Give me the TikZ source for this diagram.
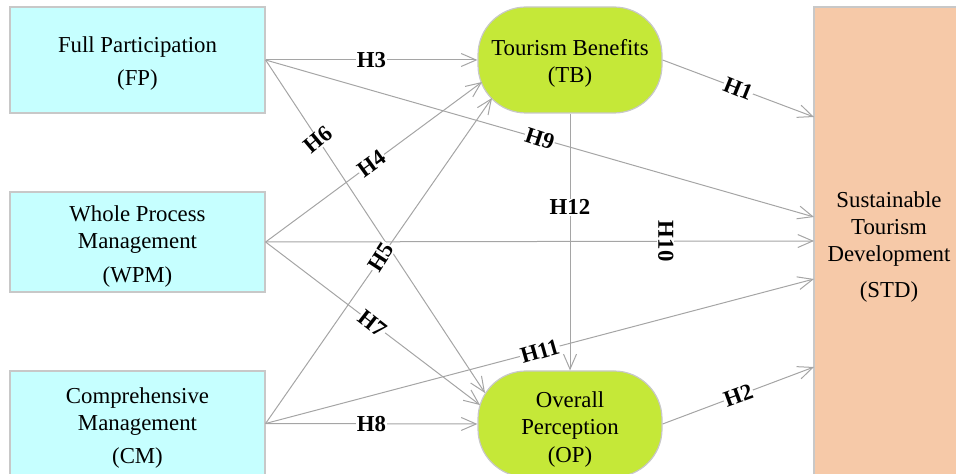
\documentclass[tikz,border=0pt]{standalone}
\usepackage{fontspec}
\setmainfont{Liberation Serif}
\usetikzlibrary{arrows.meta,calc}
\definecolor{boxcyan}{RGB}{198,255,255}
\definecolor{pillgreen}{RGB}{197,232,56}
\definecolor{stdorange}{RGB}{246,201,168}
\definecolor{edgegray}{RGB}{200,200,200}
\definecolor{linegray}{RGB}{165,165,165}
\begin{document}
\begin{tikzpicture}[x=0.5pt,y=-0.5pt,
  every node/.style={font=\fontsize{11.4}{13.5}\selectfont},
  srcbox/.style={draw=edgegray, line width=0.6pt, fill=boxcyan, minimum width=127.5pt, inner sep=0pt},
  pill/.style={draw=edgegray, line width=0.6pt, fill=pillgreen, minimum width=92pt, minimum height=53pt, rounded corners=24pt, inner sep=0pt},
  tgtbox/.style={draw=edgegray, line width=0.6pt, fill=stdorange, minimum width=75pt, minimum height=237pt, inner sep=0pt},
  txt/.style={align=center, inner sep=0pt},
  conn/.style={draw=linegray, line width=0.5pt, -{Straight Barb[length=7.5pt,width=6.5pt]}},
  lbl/.style={font=\fontsize{11.4}{13.5}\selectfont\bfseries, fill=white, inner sep=0.4pt}]
\useasboundingbox (0,0) rectangle (956,474);
\clip (0,0) rectangle (956,474);

% shapes
\node[srcbox, minimum height=53pt] (FP) at (137.5,60) {};
\node[srcbox, minimum height=50pt] (WPM) at (137.5,242) {};
\node[srcbox, minimum height=52.5pt] (CM) at (137.5,423.5) {};
\node[pill] (TB) at (570,60) {};
\node[pill] (OP) at (570,424) {};
\node[tgtbox] (STD) at (889,244) {};

% texts
\node[txt] (FPtext) at ($(FP)+(0,4)$) {Full Participation\\[3pt](FP)};
\node[txt] (WPMtext) at ($(WPM)+(0,5)$) {Whole Process\\Management\\[3.5pt](WPM)};
\node[txt] (CMtext) at ($(CM)+(0,5)$) {Comprehensive\\Management\\[3pt](CM)};
\node[txt] (TBtext) at ($(TB)+(0,3)$) {Tourism Benefits\\(TB)};
\node[txt] (OPtext) at ($(OP)+(0,6)$) {Overall\\Perception\\[0.5pt](OP)};
\node[txt] (STDtext) at ($(STD)+(0,3)$) {Sustainable\\Tourism\\Development\\[4.5pt](STD)};

% arrow end points on node borders
\coordinate (tb4) at (482,82);
\coordinate (tb5) at (492,98);
\coordinate (op6) at (485,393);
\coordinate (op7) at (480,405);
\coordinate (s1) at (814,117);
\coordinate (s9) at (814,217);
\coordinate (s10) at (814,241);
\coordinate (s11) at (814,279);
\coordinate (s2) at (814,367);

% connectors
\draw[conn] (FP.east) -- node[lbl, pos=0.5] {H3} (TB.west);
\draw[conn] (FP.east) -- node[lbl, pos=0.5, rotate=-18] {H9} (s9);
\draw[conn] (FP.east) -- node[lbl, pos=0.24, rotate=40] {H6} (op6);
\draw[conn] (WPM.east) -- node[lbl, pos=0.49, rotate=36] {H4} (tb4);
\draw[conn] (WPM.east) -- node[lbl, pos=0.73, rotate=-90] {H10} (s10);
\draw[conn] (WPM.east) -- node[lbl, pos=0.5, rotate=-38] {H7} (op7);
\draw[conn] (CM.east) -- node[lbl, pos=0.51, rotate=57] {H5} (tb5);
\draw[conn] (CM.east) -- node[lbl, pos=0.5, rotate=16] {H11} (s11);
\draw[conn] (CM.east) -- node[lbl, pos=0.5] {H8} (OP.west);
\draw[conn] (TB.south) -- node[lbl, pos=0.365] {H12} (OP.north);
\draw[conn] (TB.east) -- node[lbl, pos=0.5, rotate=-22] {H1} (s1);
\draw[conn] (OP.east) -- node[lbl, pos=0.5, rotate=20] {H2} (s2);
\end{tikzpicture}
\end{document}
